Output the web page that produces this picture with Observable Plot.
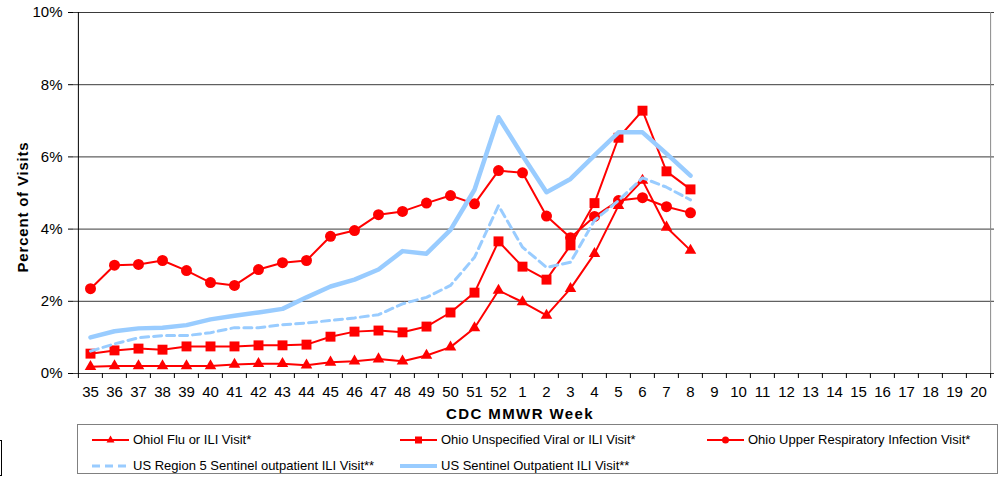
<!DOCTYPE html>
<html>
<head>
<meta charset="utf-8">
<script src="https://cdn.jsdelivr.net/npm/d3@7"></script>
<script src="https://cdn.jsdelivr.net/npm/@observablehq/plot@0.6"></script>
<style>
  html, body { margin: 0; padding: 0; background: #fff; }
  body { width: 1006px; height: 477px; position: relative; overflow: hidden; font-family: "Liberation Sans", Arial, sans-serif; }
  #chart { position: absolute; left: 0; top: 0; }
  #legend { position: absolute; left: 77px; top: 424px; width: 921px; height: 50px; border: 1px solid #808080; box-sizing: border-box; background: #fff; }
  .item { position: absolute; display: flex; align-items: center; font-size: 13px; color: #000; white-space: nowrap; }
  .item svg { margin-right: 4px; }
  #stub { position: absolute; left: -20px; top: 440px; width: 22px; height: 36px; border: 1px solid #000; box-sizing: border-box; }
</style>
</head>
<body>
<div id="chart"></div>
<div id="stub"></div>
<div id="legend"></div>
<script>
// Categories (CDC MMWR weeks)
const weeks = ["35","36","37","38","39","40","41","42","43","44","45","46","47","48","49","50","51","52",
               "1","2","3","4","5","6","7","8","9","10","11","12","13","14","15","16","17","18","19","20"];
const dataWeeks = ["35","36","37","38","39","40","41","42","43","44","45","46","47","48","49","50","51","52","1","2","3","4","5","6","7","8"];

// Series values (percent of visits)
const ohioFluILI   = [0.19,0.21,0.21,0.21,0.21,0.21,0.25,0.27,0.27,0.23,0.31,0.34,0.40,0.34,0.50,0.73,1.26,2.30,1.98,1.61,2.35,3.32,4.65,5.35,4.05,3.41];
const ohioUnspec   = [0.55,0.64,0.69,0.66,0.75,0.75,0.75,0.78,0.78,0.80,1.02,1.16,1.19,1.14,1.30,1.69,2.24,3.66,2.96,2.60,3.55,4.72,6.53,7.28,5.60,5.10];
const ohioURI      = [2.35,3.00,3.02,3.13,2.85,2.52,2.44,2.88,3.07,3.13,3.80,3.96,4.40,4.49,4.72,4.93,4.70,5.62,5.56,4.36,3.76,4.35,4.79,4.87,4.62,4.45];
const usRegion5    = [0.62,0.82,0.99,1.05,1.05,1.13,1.27,1.27,1.35,1.40,1.47,1.54,1.63,1.93,2.11,2.44,3.22,4.65,3.50,2.94,3.08,4.24,4.79,5.42,5.16,4.81];
const usSentinel   = [1.00,1.17,1.25,1.27,1.34,1.50,1.60,1.69,1.79,2.11,2.41,2.60,2.88,3.39,3.32,3.98,5.09,7.10,6.04,5.02,5.39,6.04,6.68,6.68,6.09,5.48];

const yTicks = [0, 2, 4, 6, 8, 10];
const xTitle = "CDC MMWR Week";
const yTitle = "Percent of Visits";
const seriesNames = [
  "Ohiol Flu or ILI Visit*",
  "Ohio Unspecified Viral or ILI Visit*",
  "Ohio Upper Respiratory Infection Visit*",
  "US Region 5 Sentinel outpatient ILI Visit**",
  "US Sentinel Outpatient ILI Visit**"
];

const toRows = vals => dataWeeks.map((w, i) => ({week: w, value: vals[i]}));
const flu = toRows(ohioFluILI), unspec = toRows(ohioUnspec), uri = toRows(ohioURI),
      reg5 = toRows(usRegion5), sent = toRows(usSentinel);

const W = 1006, H = 424, mL = 73, mR = 12, mT = 12, mB = 51;
const step = (W - mL - mR) / weeks.length;
const RED = "#FF0000", BLUE = "#99CCFF";
const font = "Liberation Sans, Arial, sans-serif";

const chart = Plot.plot({
  width: W, height: H,
  marginLeft: mL, marginRight: mR, marginTop: mT, marginBottom: mB,
  style: {fontFamily: font, fontSize: "15px", color: "#000", background: "transparent"},
  x: {type: "point", domain: weeks, padding: 0.5},
  y: {domain: [0, 10]},
  marks: [
    Plot.ruleY(yTicks, {stroke: "#3a3a3a", strokeWidth: 1}),
    Plot.ruleX([weeks[weeks.length - 1]], {dx: step / 2, stroke: "#8a8a8a", strokeWidth: 1}),
    Plot.ruleX([weeks[0]], {dx: -step / 2, stroke: "#000", strokeWidth: 1}),
    Plot.axisY({ticks: yTicks, tickFormat: d => d + "%", tickSize: 5, tickPadding: 6, label: null, fontSize: 15}),
    Plot.axisX({ticks: weeks, tickFormat: () => "", tickSize: 5, dx: -step / 2, label: null}),
    Plot.axisX({ticks: [weeks[weeks.length - 1]], tickFormat: () => "", tickSize: 5, dx: step / 2, label: null}),
    Plot.axisX({ticks: weeks, tickSize: 0, tickPadding: 13, label: null, fontSize: 15}),
    Plot.text([xTitle], {frameAnchor: "bottom", textAnchor: "middle", lineAnchor: "middle", dy: 41, dx: -14, fontWeight: "bold", fontSize: 15, fill: "#000"}),
    Plot.text([yTitle], {frameAnchor: "left", textAnchor: "middle", lineAnchor: "middle", dx: -50, dy: 14, rotate: -90, fontWeight: "bold", fontSize: 15, fill: "#000"}),
    // Ohio series
    Plot.line(flu, {x: "week", y: "value", stroke: RED, strokeWidth: 2}),
    Plot.dot(flu, {x: "week", y: "value", symbol: "triangle", r: 4.3, fill: RED, stroke: "none"}),
    Plot.line(unspec, {x: "week", y: "value", stroke: RED, strokeWidth: 2}),
    Plot.dot(unspec, {x: "week", y: "value", symbol: "square", r: 5.6, fill: RED, stroke: "none"}),
    Plot.line(uri, {x: "week", y: "value", stroke: RED, strokeWidth: 2}),
    Plot.dot(uri, {x: "week", y: "value", symbol: "circle", r: 5.5, fill: RED, stroke: "none"}),
    // US series
    Plot.line(reg5, {x: "week", y: "value", stroke: BLUE, strokeWidth: 3, strokeDasharray: "8,5"}),
    Plot.line(sent, {x: "week", y: "value", stroke: BLUE, strokeWidth: 4.5})
  ]
});
// letter spacing for axis titles
d3.select(chart).selectAll("text").each(function() {
  const t = this.textContent;
  if (t === xTitle) this.style.letterSpacing = "1.4px";
  if (t === yTitle) this.style.letterSpacing = "0.8px";
});
document.getElementById("chart").appendChild(chart);

// Legend
const legend = document.getElementById("legend");
const sample = (kind) => {
  const ns = "http://www.w3.org/2000/svg";
  const s = document.createElementNS(ns, "svg");
  s.setAttribute("width", 37); s.setAttribute("height", 12);
  const line = document.createElementNS(ns, "line");
  line.setAttribute("x1", 0); line.setAttribute("x2", 37);
  line.setAttribute("y1", 6); line.setAttribute("y2", 6);
  if (kind === "dash" || kind === "solid") {
    line.setAttribute("stroke", BLUE);
    line.setAttribute("stroke-width", kind === "dash" ? 3 : 4);
    if (kind === "dash") line.setAttribute("stroke-dasharray", "8,5");
  } else {
    line.setAttribute("stroke", RED);
    line.setAttribute("stroke-width", 2);
  }
  s.appendChild(line);
  if (kind === "triangle") {
    const p = document.createElementNS(ns, "path");
    p.setAttribute("d", "M18.5,1.5L22.5,8.5L14.5,8.5Z"); p.setAttribute("fill", RED); s.appendChild(p);
  } else if (kind === "square") {
    const r = document.createElementNS(ns, "rect");
    r.setAttribute("x", 15); r.setAttribute("y", 2.5); r.setAttribute("width", 7); r.setAttribute("height", 7); r.setAttribute("fill", RED); s.appendChild(r);
  } else if (kind === "circle") {
    const c = document.createElementNS(ns, "circle");
    c.setAttribute("cx", 18.5); c.setAttribute("cy", 6); c.setAttribute("r", 3.5); c.setAttribute("fill", RED); s.appendChild(c);
  }
  return s;
};
const kinds = ["triangle", "square", "circle", "dash", "solid"];
const pos = [[14, 7], [322, 7], [629, 7], [14, 33], [322, 33]];
seriesNames.forEach((name, i) => {
  const it = document.createElement("div");
  it.className = "item";
  it.style.left = pos[i][0] + "px";
  it.style.top = pos[i][1] + "px";
  it.appendChild(sample(kinds[i]));
  const t = document.createElement("span");
  t.textContent = name;
  it.appendChild(t);
  legend.appendChild(it);
});
</script>
</body>
</html>
